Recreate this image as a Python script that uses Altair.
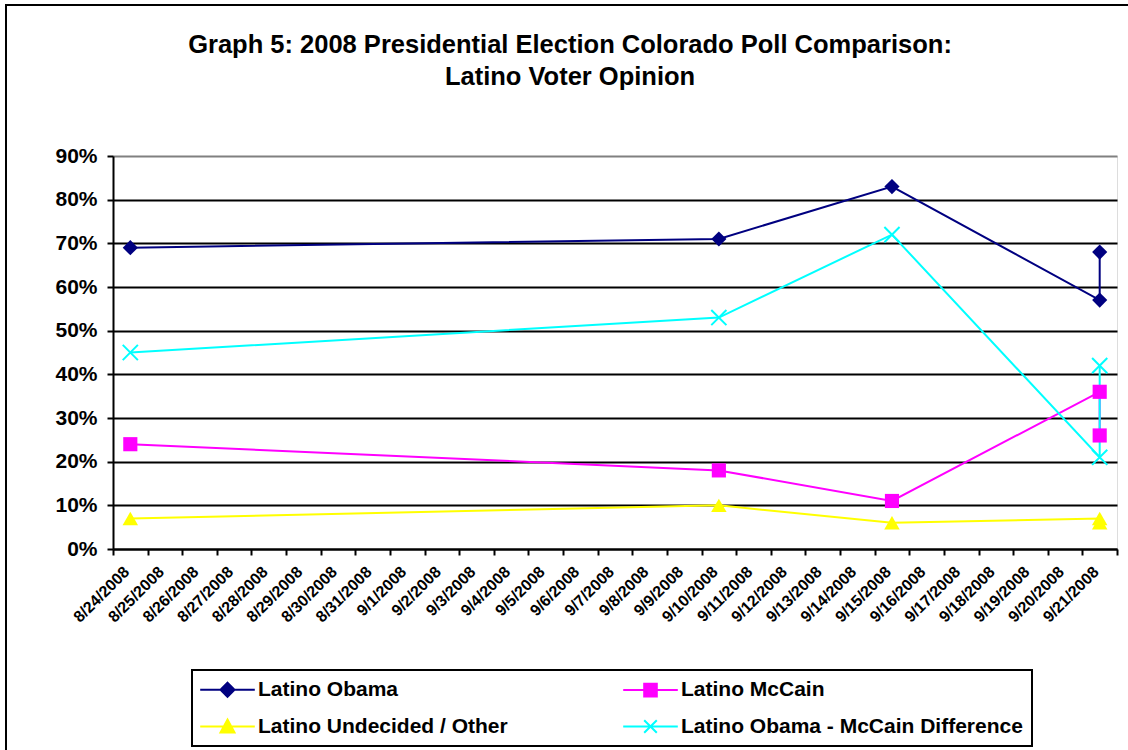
import altair as alt
import pandas as pd

# Category axis (one category per day) - tick labels
category_dates = [
    "8/24/2008", "8/25/2008", "8/26/2008", "8/27/2008", "8/28/2008", "8/29/2008",
    "8/30/2008", "8/31/2008", "9/1/2008", "9/2/2008", "9/3/2008", "9/4/2008",
    "9/5/2008", "9/6/2008", "9/7/2008", "9/8/2008", "9/9/2008", "9/10/2008",
    "9/11/2008", "9/12/2008", "9/13/2008", "9/14/2008", "9/15/2008", "9/16/2008",
    "9/17/2008", "9/18/2008", "9/19/2008", "9/20/2008", "9/21/2008",
]

# Poll dates (two polls on 9/21)
poll_dates = ["8/24/2008", "9/10/2008", "9/15/2008", "9/21/2008", "9/21/2008"]

latino_obama = [69, 71, 83, 57, 68]
latino_mccain = [24, 18, 11, 36, 26]
latino_undecided = [7, 10, 6, 7, 6]
latino_difference = [45, 53, 72, 21, 42]

series_names = [
    "Latino Obama",
    "Latino McCain",
    "Latino Undecided / Other",
    "Latino Obama - McCain Difference",
]
series_colors = ["#000080", "#FF00FF", "#FFFF00", "#00FFFF"]

y_ticks = [0, 0.1, 0.2, 0.3, 0.4, 0.5, 0.6, 0.7, 0.8, 0.9]

rows = []
for name, values in zip(series_names,
                        [latino_obama, latino_mccain, latino_undecided, latino_difference]):
    for seq, (d, v) in enumerate(zip(poll_dates, values)):
        rows.append({"date": d, "series": name, "value": v / 100.0, "seq": seq})
df = pd.DataFrame(rows)

FONT = "Liberation Sans"

color_scale = alt.Scale(domain=series_names, range=series_colors)

x_enc = alt.X(
    "date:N",
    sort=category_dates,
    scale=alt.Scale(type="band", domain=category_dates, paddingInner=0, paddingOuter=0),
    axis=alt.Axis(
        title=None,
        tickBand="extent",
        labelAngle=315,
        labelAlign="right",
        labelBaseline="middle",
        labelFont=FONT,
        labelFontSize=16,
        labelFontWeight="bold",
        labelColor="black",
        labelPadding=14,
        labelOffset=-4,
        labelOverlap=False,
        labelBound=False,
        domainColor="black",
        domainWidth=2,
        tickColor="black",
        tickWidth=2,
        tickSize=6,
        grid=False,
    ),
)

y_enc = alt.Y(
    "value:Q",
    scale=alt.Scale(domain=[0, 0.9], nice=False, zero=True),
    axis=alt.Axis(
        title=None,
        values=y_ticks,
        format=".0%",
        labelFont=FONT,
        labelFontSize=21,
        labelFontWeight="bold",
        labelColor="black",
        labelPadding=10,
        domainColor="black",
        domainWidth=2,
        tickColor="black",
        tickWidth=2,
        tickSize=6,
        grid=True,
        gridColor=alt.condition("datum.value >= 0.9", alt.value("#808080"), alt.value("black")),
        gridWidth=2,
    ),
)

base = alt.Chart(df)

lines = base.mark_line(strokeWidth=2).encode(
    x=x_enc,
    y=y_enc,
    color=alt.Color("series:N", scale=color_scale, legend=None),
    order=alt.Order("seq:Q"),
)

marker_specs = [
    ("Latino Obama", dict(shape="diamond", filled=True, size=230)),
    ("Latino McCain", dict(shape="square", filled=True, size=200)),
    ("Latino Undecided / Other", dict(shape="triangle-up", filled=True, size=240)),
    ("Latino Obama - McCain Difference",
     dict(shape="M-1,-1L1,1M-1,1L1,-1", filled=False, size=230, strokeWidth=2)),
]

point_layers = []
for name, spec in marker_specs:
    point_layers.append(
        base.transform_filter(alt.datum.series == name)
        .mark_point(opacity=1, **spec)
        .encode(
            x=x_enc,
            y=y_enc,
            color=alt.Color("series:N", scale=color_scale, legend=None),
        )
    )

# legend symbols: line segment through the marker
legend_paths = [
    "M-3.9,0H3.9M0,-1L1,0L0,1L-1,0Z",
    "M-3.9,0H3.9M-0.9,-0.9H0.9V0.9H-0.9Z",
    "M-3.9,0H3.9M0,-1L1,0.85H-1Z",
    "M-3.9,0H3.9M-0.9,-0.9L0.9,0.9M-0.9,0.9L0.9,-0.9",
]

legend_layer = (
    base.transform_filter("datum.seq < 0")
    .mark_point(filled=True, opacity=1, strokeWidth=2)
    .encode(
        x=x_enc,
        y=y_enc,
        color=alt.Color("series:N", scale=color_scale, legend=alt.Legend(title=None)),
        stroke=alt.Stroke("series:N", scale=color_scale, legend=alt.Legend(title=None)),
        shape=alt.Shape("series:N", scale=alt.Scale(domain=series_names, range=legend_paths),
                        legend=alt.Legend(title=None)),
    )
)

frame = alt.Chart(df).mark_rect(fill=None, stroke="black", strokeWidth=2).encode(
    x=alt.value(-107), x2=alt.value(1040), y=alt.value(-151), y2=alt.value(620)
)

chart = (
    alt.layer(frame, lines, *point_layers, legend_layer)
    .resolve_scale(color="independent", stroke="independent", shape="independent")
    .properties(
        width=1004,
        height=393,
        autosize=alt.AutoSizeParams(type="none"),
        padding={"left": 113, "top": 156, "right": 11, "bottom": 201},
        title=alt.TitleParams(
            text=["Graph 5: 2008 Presidential Election Colorado Poll Comparison:",
                  "Latino Voter Opinion"],
            font=FONT,
            fontSize=25.5,
            fontWeight="bold",
            color="black",
            lineHeight=32,
            anchor="middle",
            dx=-45,
            offset=-86,
        ),
    )
    .configure_view(fill="#C0C0C0", stroke="#808080", strokeWidth=2)
    .configure(background="white")
    .configure_legend(
        orient="none",
        legendX=79,
        legendY=514,
        direction="horizontal",
        columns=2,
        columnPadding=111,
        rowPadding=14,
        padding=9,
        strokeColor="black",
        strokeWidth=2,
        labelFont=FONT,
        labelFontSize=21,
        labelFontWeight="bold",
        labelColor="black",
        labelLimit=500,
        labelOffset=20,
        symbolOffset=16,
        symbolSize=196,
        symbolStrokeWidth=2,
        symbolOpacity=1,
    )
)

chart.save("out.html", embed_options={"renderer": "svg", "actions": False})
